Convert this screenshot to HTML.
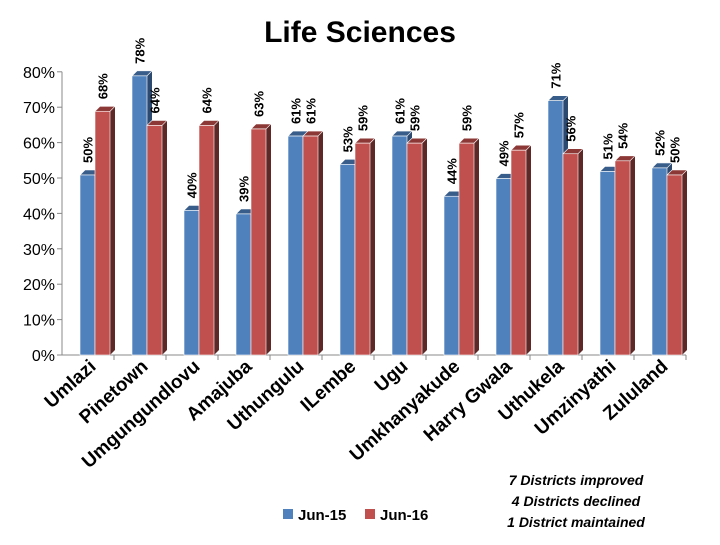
<!DOCTYPE html>
<html><head><meta charset="utf-8"><style>
body{margin:0;background:#fff}
svg text{font-family:"Liberation Sans",sans-serif}
</style></head><body>
<svg id="c" width="720" height="540" xmlns="http://www.w3.org/2000/svg">
<text x="360" y="42" text-anchor="middle" font-size="30" font-weight="bold">Life Sciences</text>
<g id="axis"></g><g id="bars"></g><g id="xl"></g>
<g>
<rect x="283" y="509" width="10" height="10" fill="#4f81bd"/>
<text x="298" y="520" font-size="15" font-weight="bold">Jun-15</text>
<rect x="365" y="509" width="10" height="10" fill="#c0504d"/>
<text x="380" y="520" font-size="15" font-weight="bold">Jun-16</text>
</g>
<g font-size="14" font-weight="bold" font-style="italic" text-anchor="middle">
<text x="576" y="485">7 Districts improved</text>
<text x="576" y="506">4 Districts declined</text>
<text x="576" y="527">1 District maintained</text>
</g>
</svg>
<script>
const categories=["Umlazi","Pinetown","Umgungundlovu","Amajuba","Uthungulu","ILembe","Ugu","Umkhanyakude","Harry Gwala","Uthukela","Umzinyathi","Zululand"];
const jun15=[50,78,40,39,61,53,61,44,49,71,51,52];
const jun16=[68,64,64,63,61,59,59,59,57,56,54,50];
const yTicks=[0,10,20,30,40,50,60,70,80];
const NS="http://www.w3.org/2000/svg";
const y0=355,pxPer=35.4,x0=80,pitch=52,bw=15,dep=5;
const y=v=>y0-v*pxPer/10;
const xs=i=>x0+i*pitch;
function mk(t,a,p){const e=document.createElementNS(NS,t);for(const k in a)e.setAttribute(k,a[k]);p.appendChild(e);return e;}
const ax=document.getElementById('axis');
const al=mk('line',{x1:62,y1:y(0),x2:62,y2:y(80),stroke:'#888'},ax);


const fl=mk('line',{x1:62,y1:y0,x2:686,y2:y0,stroke:'#888'},ax);


yTicks.forEach(v=>{
 mk('line',{x1:57,x2:62,y1:y(v),y2:y(v),stroke:'#888'},ax);
 const t=mk('text',{x:55,y:y(v)+6,'text-anchor':'end','font-size':16},ax);t.textContent=v+'%';
 
 
});
for(let k=1;k<=12;k++) mk('line',{x1:62+k*52,x2:62+k*52,y1:y0,y2:y0+5,stroke:'#888'},ax);
const bg=document.getElementById('bars');
function bar(x,v,front,top,side,name){
 const g=mk('g',{},bg);
 
 
 const yt=y(v)-3;
 mk('polygon',{points:`${x+bw},${yt} ${x+bw+dep},${yt-dep} ${x+bw+dep},${y0-dep} ${x+bw},${y0}`,fill:side},g);
 mk('polygon',{points:`${x},${yt} ${x+dep},${yt-dep} ${x+bw+dep},${yt-dep} ${x+bw},${yt}`,fill:top,stroke:'#fff','stroke-width':0.6},g);
 mk('rect',{x:x,y:yt,width:bw,height:y0-yt,fill:front,stroke:'#fff','stroke-width':0.6},g);
 const t=mk('text',{transform:`translate(${x+bw/2+5},${yt-12}) rotate(-90)`,'font-size':13,'font-weight':'bold'},g);
 t.textContent=v+'%';
}
categories.forEach((c,i)=>{
 bar(xs(i),jun15[i],'#4f81bd','#385d8a','#2c4a70','bar-jun15-'+i);
 bar(xs(i)+bw,jun16[i],'#c0504d','#8c3836','#5e2827','bar-jun16-'+i);
 const t=mk('text',{transform:`translate(${xs(i)+bw+2},368) rotate(-42)`,'text-anchor':'end','font-size':19,'font-weight':'bold'},document.getElementById('xl'));
 t.textContent=c;
 
 
});
</script>
</body></html>
